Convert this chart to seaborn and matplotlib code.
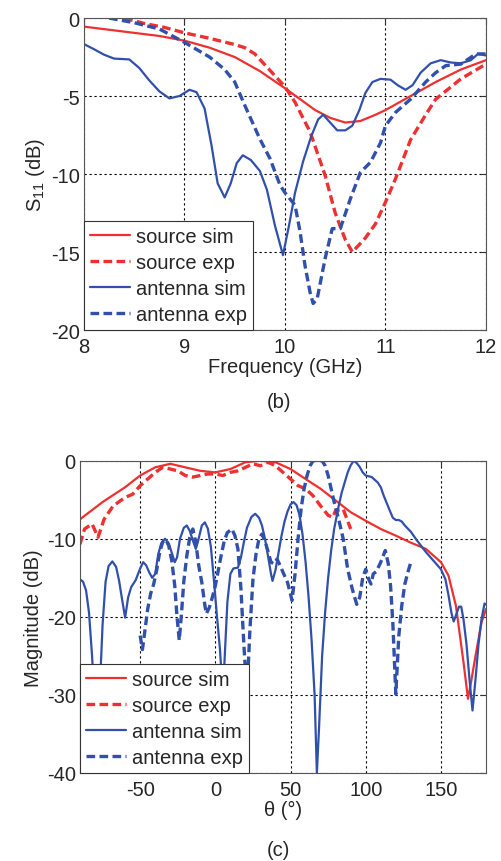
import numpy as np
import pandas as pd
import seaborn as sns
import matplotlib.pyplot as plt

# ---- (b) S11 vs frequency ----
src_sim_f = [8.0, 8.25, 8.5, 8.75, 9.0, 9.25, 9.5, 9.75, 10.0, 10.15, 10.3, 10.45, 10.6, 10.75, 10.9, 11.0, 11.25,
             11.5, 11.75, 12.0]
src_sim_s = [-0.55, -0.75, -0.95, -1.15, -1.45, -1.9, -2.5, -3.4, -4.5, -5.2, -5.9, -6.4, -6.7, -6.6, -6.2, -5.9,
             -5.0, -4.1, -3.3, -2.7]

src_exp_f = [8.4, 8.6, 8.8, 9.0, 9.25, 9.5, 9.6, 9.7, 9.8, 9.9, 10.0, 10.1, 10.25, 10.4, 10.5, 10.6, 10.67, 10.8,
             10.9, 11.0, 11.1, 11.25, 11.4, 11.5, 11.75, 12.0]
src_exp_s = [0.0, -0.35, -0.6, -0.95, -1.3, -1.7, -1.9, -2.3, -3.0, -3.7, -4.4, -5.4, -7.3, -10.1, -12.5, -14.2,
             -15.0, -14.1, -13.2, -11.8, -10.3, -7.8, -6.2, -5.2, -3.9, -2.95]

ant_sim_f = [8.0, 8.1, 8.2, 8.3, 8.45, 8.55, 8.65, 8.75, 8.85, 8.95, 9.05, 9.12, 9.2, 9.27, 9.33, 9.4, 9.46, 9.52,
             9.58, 9.66, 9.75, 9.82, 9.9, 9.98, 10.04, 10.1, 10.18, 10.26, 10.33, 10.38, 10.45, 10.52, 10.6,
             10.67, 10.74, 10.8, 10.87, 10.95, 11.05, 11.12, 11.2, 11.27, 11.35, 11.45, 11.55, 11.65, 11.75,
             11.85, 11.92, 12.0]
ant_sim_s = [-1.67, -2.0, -2.35, -2.6, -2.65, -3.2, -4.0, -4.7, -5.15, -5.0, -4.6, -4.75, -5.8, -8.2, -10.6, -11.5,
             -10.6, -9.3, -8.8, -9.1, -9.8, -11.0, -13.3, -15.2, -13.3, -11.2, -9.2, -7.6, -6.5, -6.2, -6.7, -7.2,
             -7.2, -6.9, -5.9, -4.8, -4.1, -3.9, -3.95, -4.3, -4.6, -4.3, -3.5, -2.9, -2.7, -2.85, -2.9, -2.7,
             -2.3, -2.4]

ant_exp_f = [8.25, 8.5, 8.75, 9.0, 9.25, 9.4, 9.5, 9.6, 9.75, 9.85, 9.95, 10.0, 10.1, 10.15, 10.2, 10.25, 10.28,
             10.32, 10.4, 10.47, 10.55, 10.65, 10.75, 10.85, 10.95, 11.0, 11.1, 11.25, 11.4, 11.5, 11.6, 11.75,
             11.9, 12.0]
ant_exp_s = [0.0, -0.3, -0.7, -1.56, -2.5, -3.3, -4.1, -5.6, -7.75, -9.0, -10.7, -11.2, -12.0, -13.7, -15.9,
             -17.6, -18.3, -18.0, -15.4, -13.5, -13.5, -11.6, -9.9, -9.25, -8.0, -6.9, -6.05, -5.2, -4.1, -3.5,
             -3.05, -2.95, -2.3, -2.3]

# ---- (c) pattern vs theta ----
src_sim_t = [-90, -75, -60, -50, -40, -30, -20, -10, 0, 10, 20, 30, 40, 50, 60, 70, 80, 90, 100, 110, 120, 130,
             140, 150, 155, 160, 165, 168, 170, 173, 177, 180]
src_sim_m = [-7.5, -5.3, -3.4, -1.9, -0.85, -0.4, -0.85, -1.3, -1.5, -1.07, -0.2, 0.0, -0.2, -1.07, -2.35, -3.6,
             -5.1, -6.6, -7.7, -8.75, -9.6, -10.5, -11.3, -13.0, -14.7, -18.6, -25.8, -30.5, -28.4, -25.0,
             -20.7, -19.0]

src_exp_t = [-90, -87, -82, -78, -74, -68, -60, -55, -50, -45, -40, -35, -30, -25, -20, -15, -10, -5, 0, 5, 10,
             15, 20, 25, 30, 35, 40, 45, 50, 55, 60, 65, 70, 75, 78, 80, 85, 90]
src_exp_m = [-10.7, -8.75, -8.1, -9.8, -7.5, -5.8, -4.7, -4.3, -3.2, -2.35, -1.5, -0.85, -1.07, -1.3, -1.9, -2.1,
             -1.9, -1.7, -1.7, -1.9, -1.5, -1.3, -0.85, -0.4, -0.65, -0.2, -0.65, -1.5, -2.35, -3.2, -3.6, -4.5,
             -5.8, -7.0, -7.25, -6.4, -6.2, -8.75]

ant_sim_t = [-90, -88, -86, -84, -82, -80, -78.5, -77, -75, -73, -71, -68.5, -66, -64, -62, -60, -58, -56, -53,
             -50, -48, -46, -44, -42, -40, -38, -36, -33.5, -31, -29, -27, -25.5, -23.5, -21, -19, -17, -15, -13,
             -11.5, -9, -7, -5, -3, -1, 1, 3, 5, 6.5, 8, 10, 12, 15, 17, 19, 21, 24, 26.5, 29, 31, 33, 35, 37,
             38, 40, 42, 44, 46, 48, 50, 52, 54, 56, 58, 60, 62, 64, 66, 67.5, 69, 71, 73, 75, 77, 79, 82, 84,
             86, 88, 90, 92, 94, 96, 98, 100, 104, 108, 110, 112, 116, 118, 120, 122, 124, 126, 130, 134, 140,
             145, 150, 153, 155, 157, 158.5, 160, 162, 163.5, 165, 167, 169, 171, 173, 175, 177, 179, 180]
ant_sim_m = [-15.2, -15.5, -16.6, -19.5, -25, -32, -38, -30, -21, -15.5, -13.5, -12.9, -13.6, -15.4, -17.8,
             -20.1, -17.5, -16.2, -15.3, -13.8, -13.0, -13.4, -14.3, -15.0, -14.5, -12.0, -10.6, -10.0, -10.6,
             -11.8, -13.0, -12.4, -10.0, -8.6, -8.3, -9.0, -10.2, -11.3, -10.3, -8.3, -7.9, -8.7, -11.0, -15.2,
             -19.8, -24, -30, -24, -18.1, -14.5, -13.8, -13.7, -12.4, -10.4, -8.6, -7.2, -6.8, -7.3, -8.3, -10,
             -12.2, -14.5, -15.4, -14, -11.8, -9.6, -7.8, -6.5, -5.6, -5.3, -5.7, -7.0, -9.5, -13.0, -17.5, -23,
             -30, -40, -34, -25, -19.4, -15, -11.5, -8.75, -5.8, -4.1, -2.8, -1.5, -0.6, 0.0, -0.3, -0.8, -1.5,
             -1.9, -2.1, -2.8, -3.4, -4.5, -6.4, -7.3, -7.6, -7.6, -7.8, -8.3, -9.1, -10.2, -11.7, -12.8, -13.9,
             -15.2, -17.2, -19.5, -20.6, -19.8, -18.7, -18.7, -20.3, -23.5, -28, -32, -28, -23.5, -20.3, -18.3,
             -18.4]

ant_exp_t = [-50, -48.5, -47, -45, -43, -41, -39, -37, -35, -33, -31, -29, -27, -25.5, -24, -22.5, -21, -19, -17,
             -15, -13, -11, -9, -7, -6, -4, -2, 0, 2, 4, 6, 8, 11, 13, 15, 17, 19, 21, 23, 25, 27, 29, 31, 33,
             35, 37, 39, 41, 43, 45, 48, 51, 53, 55, 57, 59, 61, 63, 65, 71, 73, 75, 77, 79, 82, 85, 88, 91, 94,
             96, 98, 100, 102, 103.5, 105, 107, 110, 113, 115, 116.5, 118, 120, 122, 124, 126, 128, 130]
ant_exp_m = [-22.4, -24.2, -22, -19, -17, -15.8, -14, -11.7, -10.4, -10.1, -10.9, -12.8, -16, -20, -23, -19.5,
             -15.5, -12.2, -9.8, -8.75, -10.5, -13.5, -15.6, -18.5, -19.6, -18.8, -17.5, -16, -14, -12, -10.2,
             -9.2, -8.75, -9.6, -11.3, -16.4, -23.7, -30, -21.6, -15.2, -12, -10, -9.4, -10.3, -11.6, -13, -13.2,
             -12.6, -13.4, -14.3, -15.6, -17.9, -14.5, -10, -6.2, -3.6, -1.9, -0.65, 0, 0, -0.65, -1.9, -3.6,
             -5.3, -7.5, -10, -13.9, -16.4, -18.4, -17.5, -15, -13.9, -15.2, -15.8, -14.5, -14.2, -13, -11.5,
             -13.2, -16, -20.7, -29.9, -22.4, -18.5, -15.8, -14.3, -13]

labels = ['source sim', 'source exp', 'antenna sim', 'antenna exp']
red = '#ee3030'
blue = '#3050ac'
fs = 14.5

sns.set_style('white')
plt.rcParams['font.family'] = ['Liberation Sans', 'DejaVu Sans']
plt.rcParams['mathtext.fontset'] = 'custom'
plt.rcParams['mathtext.rm'] = 'Liberation Sans'
plt.rcParams['axes.unicode_minus'] = False

fig = plt.figure(figsize=(5.02, 8.62), dpi=100)
ax1 = fig.add_axes([0.1673, 0.6160, 0.8008, 0.3619])
ax2 = fig.add_axes([0.1594, 0.1021, 0.8088, 0.3623])

dash = (0, (2.6, 1.3))


def draw(ax, series):
    for (x, y, c, ls, lw), lab in zip(series, labels):
        sns.lineplot(x=x, y=y, ax=ax, color=c, linestyle=ls, linewidth=lw, label=lab,
                     sort=False, estimator=None)


draw(ax1, [(src_sim_f, src_sim_s, red, '-', 1.6),
           (src_exp_f, src_exp_s, red, dash, 2.4),
           (ant_sim_f, ant_sim_s, blue, '-', 1.6),
           (ant_exp_f, ant_exp_s, blue, dash, 2.4)])
draw(ax2, [(src_sim_t, src_sim_m, red, '-', 1.6),
           (src_exp_t, src_exp_m, red, dash, 2.4),
           (ant_sim_t, ant_sim_m, blue, '-', 1.6),
           (ant_exp_t, ant_exp_m, blue, dash, 2.4)])

ax1.set_xlim(8, 12)
ax1.set_ylim(-20, 0)
ax1.set_xticks([8, 9, 10, 11, 12])
ax1.set_yticks([-20, -15, -10, -5, 0])
ax1.set_xlabel('Frequency (GHz)', fontsize=fs, labelpad=1)
ax1.set_ylabel(r'$\mathregular{S_{11}}$ (dB)', fontsize=fs, labelpad=3)

ax2.set_xlim(-90, 180)
ax2.set_ylim(-40, 0)
ax2.set_xticks([-50, 0, 50, 100, 150])
ax2.set_yticks([-40, -30, -20, -10, 0])
ax2.set_xlabel('θ (°)', fontsize=fs, labelpad=1)
ax2.set_ylabel('Magnitude (dB)', fontsize=fs, labelpad=3)

for ax in (ax1, ax2):
    ax.grid(True, color='k', linestyle=(0, (2, 2.5)), linewidth=0.8)
    ax.tick_params(direction='in', length=4, width=0.8, labelsize=fs, top=True, right=True,
                   color='#333333')
    ax.tick_params(axis='x', pad=5)
    ax.tick_params(axis='y', pad=3)
    for sp in ax.spines.values():
        sp.set_color('#555555')
        sp.set_linewidth(0.8)
    leg = ax.legend(loc='lower left', borderaxespad=0, fontsize=fs, frameon=True,
                    fancybox=False, framealpha=1, edgecolor='#333333', handlelength=2.0,
                    handletextpad=0.3, labelspacing=0.35, borderpad=0.3)
    leg.get_frame().set_linewidth(0.8)

fig.text(0.555, 1 - 403 / 862, '(b)', fontsize=fs, ha='center', va='center')
fig.text(0.555, 1 - 851 / 862, '(c)', fontsize=fs, ha='center', va='center')

fig.savefig('out.png', dpi=100)
